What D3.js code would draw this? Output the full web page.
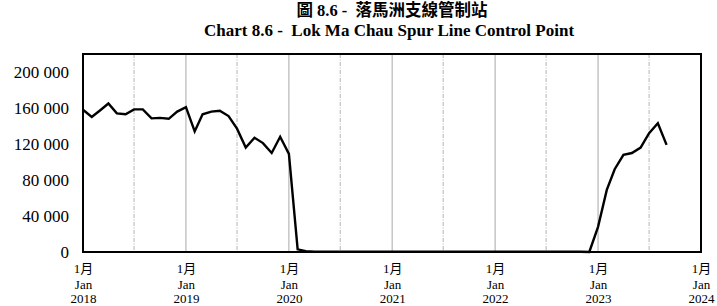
<!DOCTYPE html>
<html><head><meta charset="utf-8">
<script src="https://cdn.jsdelivr.net/npm/d3@7"></script>
<style>
body{margin:0;background:#fff;}
svg{display:block;}
text{font-family:"Liberation Serif","Times New Roman","DejaVu Serif",serif;}
.zh{font-family:"Liberation Serif","Noto Sans CJK TC",serif;}
</style></head>
<body><svg id="c" width="717" height="306"></svg>
<script>
const titleZh = "圖 8.6 -  落馬洲支線管制站";
const titleEn = "Chart 8.6 -  Lok Ma Chau Spur Line Control Point";
const startYear = 2018, startMonth = 0;
const values = [
  // 2018
  158000,150000,157000,165000,154000,153000,158500,158500,148500,149000,148000,156000,
  // 2019
  161000,134000,153000,156000,157000,151000,137000,116000,127000,121000,110000,128000,
  // 2020
  109000,3000,1000,300,200,300,400,300,200,300,200,300,
  // 2021
  200,200,200,200,200,200,200,200,200,200,200,200,
  // 2022
  200,200,200,200,200,200,200,200,200,200,200,0,
  // 2023
  28000,69000,92000,108000,110000,116000,132000,143000,119000
];
const yTicks = [0,40000,80000,120000,160000,200000];
const xYears = [2018,2019,2020,2021,2022,2023,2024];
const xLabelZh = "1月", xLabelEn = "Jan";

const svg = d3.select("#c");
const L=83, R=701, T=54, B=252;
const x = d3.scaleTime().domain([new Date(2018,0,1), new Date(2024,0,1)]).range([L,R]);
const y = d3.scaleLinear().domain([0,220000]).range([B,T]);
const dates = values.map((v,i)=>new Date(startYear, startMonth+i, 1));

// gridlines
const g = svg.append("g");
xYears.slice(1,-1).forEach(yr=>{
  g.append("line").attr("x1",x(new Date(yr,0,1))).attr("x2",x(new Date(yr,0,1)))
   .attr("y1",T).attr("y2",B).attr("stroke","#a8a8a8").attr("stroke-width",1);
});
xYears.slice(0,-1).forEach(yr=>{
  g.append("line").attr("x1",x(new Date(yr,6,1))).attr("x2",x(new Date(yr,6,1)))
   .attr("y1",T).attr("y2",B).attr("stroke","#b4b4b4").attr("stroke-width",1)
   .attr("stroke-dasharray","4,1.5,1,1.5");
});

// line
svg.append("path").datum(values)
  .attr("fill","none").attr("stroke","#000").attr("stroke-width",2.4)
  .attr("stroke-linejoin","miter")
  .attr("d", d3.line().x((d,i)=>x(dates[i])).y(d=>y(d)));

// frame
svg.append("rect").attr("x",L).attr("y",T).attr("width",R-L).attr("height",B-T)
  .attr("fill","none").attr("stroke","#000").attr("stroke-width",2);

// y axis labels
const yAxis = d3.axisLeft(y).tickValues(yTicks).tickSize(0).tickPadding(14)
  .tickFormat(d=>d3.format(",")(d).replace(/,/g," "));
const ya = svg.append("g").attr("transform",`translate(${L},0)`).call(yAxis);
ya.attr("font-family",null);
ya.select(".domain").remove();
ya.selectAll("text").style("font-family",'"Liberation Serif","Times New Roman",serif').style("font-size","17px").attr("fill","#000");

// x axis labels
const xAxis = d3.axisBottom(x).tickValues(xYears.map(yr=>new Date(yr,0,1))).tickSize(0).tickFormat("");
const xa = svg.append("g").attr("transform",`translate(0,${B})`).call(xAxis);
xa.attr("font-family",null);
xa.select(".domain").remove();
xa.selectAll(".tick").each(function(d){
  const t = d3.select(this).append("text").attr("class","zh").attr("text-anchor","middle")
    .style("font-size","13px").attr("fill","#000");
  t.append("tspan").attr("x",0).attr("y",21).text(xLabelZh);
  t.append("tspan").attr("x",0).attr("y",36.5).text(xLabelEn);
  t.append("tspan").attr("x",0).attr("y",51).text(d.getFullYear());
});

// titles
svg.append("text").attr("class","zh").attr("x",392).attr("y",16).attr("text-anchor","middle")
  .style("white-space","pre").style("font-weight","bold").style("font-size","16.5px").text(titleZh);
svg.append("text").attr("x",389).attr("y",35.5).attr("text-anchor","middle")
  .style("white-space","pre").style("font-weight","bold").style("font-size","17px").text(titleEn);
</script></body></html>
